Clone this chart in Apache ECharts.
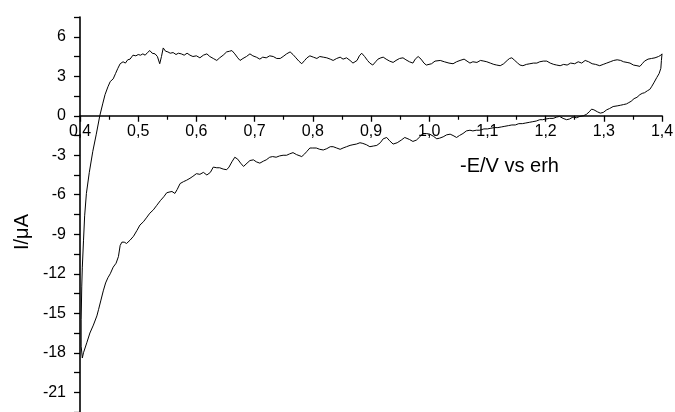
<!DOCTYPE html>
<html>
<head>
<meta charset="utf-8">
<title>CV</title>
<script src="https://cdn.jsdelivr.net/npm/echarts@6/dist/echarts.min.js"></script>
<style>
    html, body { margin: 0; padding: 0; background: #fff; }
    #main { width: 675px; height: 412px; }
</style>
</head>
<body>
<div id="main"></div>
<script>
// -E (V vs erh), I (uA)
var forwardScan = [
    [0.403,-13.0],[0.404,-11.5],[0.406,-9.5],[0.408,-7.6],[0.411,-5.9],[0.416,-4.3],[0.422,-2.7],[0.428,-1.4],
    [0.434,0.0],[0.439,0.9],[0.443,1.6],[0.448,2.2],[0.452,2.6],[0.457,2.8],[0.461,3.2],[0.465,3.6],[0.469,3.95],
    [0.472,3.8],[0.474,4.1],[0.478,4.0],[0.482,4.25],[0.486,4.3],[0.491,4.6],[0.496,4.55],[0.500,4.65],[0.504,4.6],
    [0.508,4.7],[0.512,4.6],[0.516,4.8],[0.520,4.95],[0.524,4.75],[0.529,4.7],[0.533,4.5],[0.537,3.95],[0.540,4.5],
    [0.543,5.15],[0.547,4.9],[0.551,4.85],[0.555,4.75],[0.560,4.8],[0.565,4.65],[0.569,4.75],[0.574,4.7],[0.579,4.6],
    [0.584,4.75],[0.589,4.6],[0.594,4.5],[0.600,4.55],[0.606,4.4],[0.612,4.6],[0.618,4.7],[0.623,4.5],[0.629,4.35],
    [0.635,4.2],[0.640,4.4],[0.646,4.6],[0.652,4.85],[0.657,4.9],[0.661,4.95],[0.666,4.7],[0.671,4.4],[0.675,4.2],
    [0.680,4.35],[0.686,4.5],[0.692,4.7],[0.697,4.55],[0.703,4.45],[0.709,4.3],[0.714,4.45],[0.720,4.4],[0.726,4.55],
    [0.732,4.5],[0.738,4.35],[0.744,4.35],[0.749,4.5],[0.755,4.7],[0.761,4.85],[0.766,4.65],[0.771,4.4],[0.776,4.15],
    [0.781,3.95],[0.786,4.2],[0.790,4.4],[0.795,4.55],[0.801,4.45],[0.807,4.35],[0.812,4.5],[0.818,4.45],[0.824,4.4],
    [0.830,4.3],[0.835,4.2],[0.841,4.35],[0.847,4.45],[0.852,4.3],[0.858,4.4],[0.864,4.2],[0.869,4.0],[0.872,3.9],
    [0.876,4.2],[0.880,4.55],[0.884,4.75],[0.889,4.5],[0.894,4.2],[0.898,4.0],[0.903,3.85],[0.908,4.1],[0.912,4.3],
    [0.917,4.4],[0.921,4.45],[0.926,4.3],[0.932,4.15],[0.938,4.05],[0.943,4.2],[0.949,4.35],[0.955,4.4],[0.960,4.25],
    [0.966,4.1],[0.972,4.0],[0.976,4.3],[0.981,4.5],[0.986,4.3],[0.991,4.0],[0.995,3.85],[0.998,3.75],[1.004,3.95],
    [1.010,4.15],[1.019,4.2],[1.026,4.1],[1.034,4.0],[1.041,3.95],[1.047,4.1],[1.053,4.2],[1.060,4.3],[1.065,4.15],
    [1.070,4.0],[1.075,4.1],[1.082,4.05],[1.088,4.2],[1.094,4.15],[1.099,4.1],[1.105,4.0],[1.111,3.9],[1.116,3.85],
    [1.122,3.8],[1.128,3.95],[1.134,4.2],[1.138,4.35],[1.142,4.4],[1.147,4.2],[1.152,4.0],[1.156,3.85],[1.161,3.8],
    [1.167,3.9],[1.173,3.95],[1.179,4.0],[1.185,4.0],[1.190,4.1],[1.196,4.15],[1.202,4.15],[1.208,4.0],[1.214,3.9],
    [1.219,3.85],[1.225,3.8],[1.231,3.9],[1.237,3.85],[1.243,4.0],[1.250,3.95],[1.256,4.1],[1.262,4.0],[1.268,4.2],
    [1.274,4.1],[1.280,3.95],[1.286,3.9],[1.293,3.8],[1.299,3.9],[1.305,4.0],[1.311,4.1],[1.317,4.2],[1.323,4.25],
    [1.329,4.2],[1.334,4.1],[1.340,4.05],[1.345,4.0],[1.351,3.85],[1.357,3.8],[1.362,3.75],[1.366,3.95],[1.370,4.15],
    [1.376,4.3],[1.382,4.35],[1.388,4.4],[1.394,4.5],[1.398,4.6],[1.400,4.7]
];

var reverseScan = [
    [1.400,4.7],[1.399,4.2],[1.398,3.6],[1.395,3.2],[1.391,2.9],[1.386,2.5],[1.382,2.2],[1.379,2.0],[1.375,1.9],
    [1.370,1.75],[1.366,1.7],[1.362,1.6],[1.357,1.4],[1.352,1.3],[1.347,1.1],[1.343,1.0],[1.339,0.9],[1.334,0.85],
    [1.329,0.8],[1.323,0.75],[1.316,0.7],[1.310,0.55],[1.305,0.45],[1.299,0.25],[1.294,0.2],[1.289,0.3],[1.283,0.45],
    [1.279,0.5],[1.275,0.3],[1.270,0.1],[1.265,0.0],[1.259,-0.05],[1.253,-0.15],[1.247,-0.1],[1.241,-0.25],[1.236,-0.3],
    [1.230,-0.2],[1.224,-0.05],[1.219,-0.1],[1.213,-0.2],[1.207,-0.2],[1.200,-0.25],[1.195,-0.3],[1.190,-0.3],
    [1.184,-0.4],[1.178,-0.45],[1.172,-0.5],[1.166,-0.55],[1.160,-0.6],[1.154,-0.6],[1.148,-0.7],[1.142,-0.7],
    [1.136,-0.75],[1.130,-0.8],[1.124,-0.85],[1.118,-0.9],[1.112,-0.9],[1.106,-0.95],[1.100,-1.0],[1.094,-1.0],
    [1.087,-1.1],[1.081,-1.1],[1.075,-1.15],[1.070,-1.1],[1.064,-1.15],[1.058,-1.35],[1.052,-1.5],[1.047,-1.65],
    [1.041,-1.5],[1.036,-1.4],[1.030,-1.45],[1.024,-1.6],[1.018,-1.7],[1.013,-1.75],[1.007,-1.55],[1.001,-1.4],
    [0.995,-1.35],[0.989,-1.35],[0.984,-1.6],[0.978,-1.85],[0.972,-1.95],[0.966,-1.8],[0.958,-1.65],[0.952,-1.85],
    [0.945,-2.05],[0.938,-2.15],[0.932,-1.9],[0.927,-1.65],[0.921,-1.75],[0.916,-2.05],[0.910,-2.25],[0.904,-2.3],
    [0.898,-2.35],[0.892,-2.2],[0.886,-2.1],[0.881,-2.05],[0.875,-2.15],[0.869,-2.2],[0.864,-2.25],[0.858,-2.35],
    [0.852,-2.45],[0.847,-2.55],[0.841,-2.45],[0.835,-2.35],[0.830,-2.35],[0.824,-2.5],[0.818,-2.6],[0.812,-2.55],
    [0.806,-2.45],[0.800,-2.45],[0.795,-2.45],[0.790,-2.7],[0.786,-2.9],[0.781,-3.1],[0.778,-3.15],[0.772,-2.95],
    [0.766,-2.8],[0.760,-2.9],[0.755,-3.0],[0.749,-3.0],[0.743,-3.05],[0.737,-3.15],[0.731,-3.1],[0.726,-3.15],
    [0.720,-3.35],[0.715,-3.45],[0.709,-3.6],[0.703,-3.5],[0.698,-3.35],[0.692,-3.4],[0.687,-3.6],[0.681,-3.85],
    [0.676,-3.6],[0.671,-3.3],[0.666,-3.15],[0.661,-3.5],[0.656,-3.9],[0.652,-4.1],[0.646,-4.05],[0.640,-3.95],
    [0.635,-3.95],[0.629,-3.9],[0.624,-4.3],[0.618,-4.5],[0.612,-4.3],[0.606,-4.45],[0.600,-4.4],[0.594,-4.6],
    [0.589,-4.75],[0.583,-4.9],[0.578,-5.0],[0.572,-5.15],[0.567,-5.6],[0.563,-5.9],[0.558,-5.75],[0.553,-5.8],
    [0.549,-5.85],[0.544,-6.15],[0.538,-6.45],[0.532,-6.8],[0.526,-7.15],[0.520,-7.4],[0.515,-7.7],[0.509,-8.05],
    [0.503,-8.3],[0.498,-8.7],[0.492,-9.15],[0.486,-9.45],[0.480,-9.7],[0.476,-9.6],[0.472,-9.6],[0.469,-9.85],
    [0.466,-10.7],[0.462,-11.2],[0.457,-11.5],[0.452,-12.0],[0.448,-12.3],[0.444,-12.7],[0.440,-13.3],[0.436,-14.0],
    [0.432,-14.7],[0.429,-15.2],[0.423,-15.9],[0.417,-16.5],[0.412,-17.2],[0.406,-18.0],[0.404,-18.4],[0.402,-17.5],
    [0.402,-15.5],[0.403,-13.0]
];

var xMin = 0.4, xMax = 1.4, xStep = 0.1;
var yMin = -22.5, yMax = 7.5, yStep = 1.5, yLabelStep = 3;
var xTitle = '-E/V vs erh';
var yTitle = 'I/\u03bcA';

var font = 'Liberation Sans, Arial, sans-serif';
var gridTop = 17, gridBottom = 0, chartH = 412;
// lift the x axis from the grid bottom up to I = 0
var plotH = chartH - gridTop - gridBottom;
var zeroOffset = -(plotH * (0 - yMin) / (yMax - yMin));

var chart = echarts.init(document.getElementById('main'));

var option = {
    backgroundColor: '#fff',
    animation: false,
    grid: { left: 80, right: 13, top: gridTop, bottom: gridBottom, containLabel: false, outerBoundsMode: 'none' },
    xAxis: {
        type: 'value',
        min: xMin,
        max: xMax,
        interval: xStep,
        position: 'bottom',
        offset: zeroOffset,
        axisLine: { onZero: false, lineStyle: { color: '#000', width: 1.6 } },
        axisTick: { length: 6, lineStyle: { color: '#000', width: 1.3 } },
        minorTick: { show: true, splitNumber: 2, length: 4, lineStyle: { color: '#000', width: 1.2 } },
        splitLine: { show: false },
        axisLabel: {
            color: '#000', fontSize: 16, fontFamily: font, margin: 8,
            formatter: function (v) { return v.toFixed(1).replace('.', ','); }
        }
    },
    yAxis: {
        type: 'value',
        min: yMin,
        max: yMax,
        interval: yStep,
        axisLine: { show: true, onZero: false, lineStyle: { color: '#000', width: 1.6 } },
        axisTick: { show: true, length: 6, lineStyle: { color: '#000', width: 1.3 } },
        splitLine: { show: false },
        axisLabel: {
            color: '#000', fontSize: 16, fontFamily: font, margin: 14,
            formatter: function (v) {
                var r = Math.abs(v / yLabelStep - Math.round(v / yLabelStep));
                return r < 1e-6 ? String(Math.round(v)) : '';
            }
        }
    },
    graphic: [
        {
            type: 'text', left: 460, top: 156,
            style: { text: xTitle, fill: '#000', font: '20px ' + font }
        },
        {
            type: 'text', x: 22, y: 232, rotation: Math.PI / 2,
            style: { text: yTitle, fill: '#000', font: '20px ' + font, align: 'center', verticalAlign: 'middle' }
        }
    ],
    series: [
        {
            name: 'forward',
            type: 'line',
            data: forwardScan,
            showSymbol: false,
            smooth: false,
            lineStyle: { color: '#000', width: 1 }
        },
        {
            name: 'reverse',
            type: 'line',
            data: reverseScan,
            showSymbol: false,
            smooth: false,
            lineStyle: { color: '#000', width: 1 }
        }
    ]
};
chart.setOption(option);
</script>
</body>
</html>
